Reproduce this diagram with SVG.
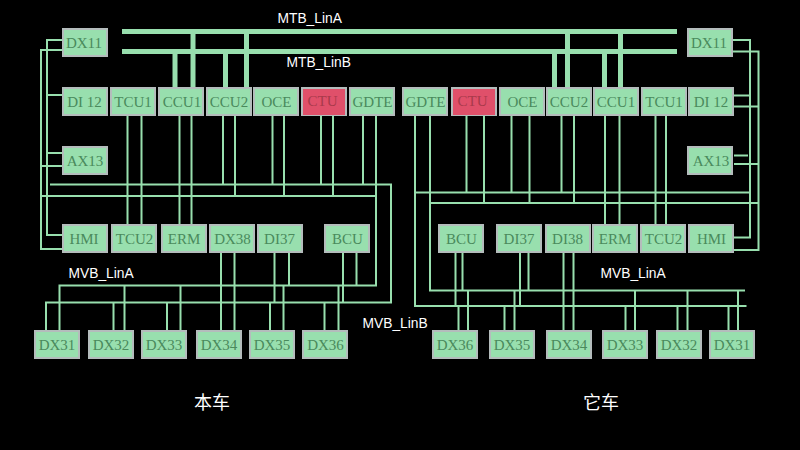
<svg xmlns="http://www.w3.org/2000/svg" width="800" height="450" viewBox="0 0 800 450">
<style>
.o{fill:#b4bcbc}
.i{fill:#98dfae}
.ir{fill:#e0506a}
.n text{font-family:"Liberation Serif",serif;font-size:15px;fill:#4a8a5c;text-anchor:middle}
.n.r text{fill:#a83a4a}
.c path{fill:none;stroke:#98dfae;stroke-width:2}
.c path.t{stroke-width:5}
.l{font-family:"Liberation Sans",sans-serif;font-size:13.8px;fill:#fff}
.z{font-family:"Noto Sans CJK SC",sans-serif;font-size:18px;fill:#fff;text-anchor:middle}
</style>
<defs>
<g id="box"><rect class="o" width="46" height="29"/><rect class="i" x="2" y="2" width="42" height="25"/></g>
<g id="boxr"><rect class="o" width="46" height="29"/><rect class="ir" x="2" y="2" width="42" height="26"/></g>
</defs>
<rect width="800" height="450" fill="#000"/>
<g id="connectors" class="c">
<path class="t" d="M122 31.500H677M122 51.500H677"/>
<path class="t" d="M175 51V87M193 31V87M225.500 51V87M246.500 31V87M554.500 51V87M567.500 31V87M604.500 51V87M620.500 31V87"/>
<path d="M62 40H47V235H62M62 50H41V249H62M47 95H62M47 153H62M41 166H62"/>
<path d="M50 184.500H391V302.500H46V330M41 196H376M376 116V285.500H59.500V330"/>
<path d="M127.500 116V224M141.500 116V224M179.500 116V224M191.500 116V224M223 116V184M235 116V196M272.500 116V184M284 116V196M321 116V184M333 116V196M363 116V184"/>
<path d="M221 253V330M234.500 253V330M274.500 253V303M289 253V285M343 253V302M356.500 253V285"/>
<path d="M113.500 302V330M124.500 285V330M167 302V330M180.500 285V330M270 302V330M283.500 285V330M324.500 302V330M338.500 285V330"/>
<path d="M733 40H750V237.500H734M733 51.500H758.500V250H734M734 95.500H750M734 106.500H758M734 155.500H748M734 164H758"/>
<path d="M415 116V306H746.500M430 116V290.500H745M415 192.500H750M430 203H758"/>
<path d="M466.500 116V192M484 116V203M511.500 116V192M529.500 116V203M561.500 116V192M574 116V203M605 116V224M619.500 116V224M655.500 116V224M666 116V224"/>
<path d="M455.500 253V306M462.500 253V290M520 253V306M528.500 253V290M563.500 253V330M573.500 253V330"/>
<path d="M458.500 306V330M468 290V330M504.500 306V330M514.500 290V330M625.500 306V330M635 290V330M677.500 306V330M687.500 290V330M728.500 306V330M738 290V330"/>
</g>
<g id="n-dx11-l" class="n"><use href="#box" x="62" y="28"/><text x="84" y="48">DX11</text></g>
<g id="n-di12-l" class="n"><use href="#box" x="62" y="87"/><text x="84.500" y="107">DI 12</text></g>
<g id="n-tcu1-l" class="n"><use href="#box" x="110" y="87"/><text x="133" y="107">TCU1</text></g>
<g id="n-ccu1-l" class="n"><use href="#box" x="158" y="87"/><text x="182" y="107">CCU1</text></g>
<g id="n-ccu2-l" class="n"><use href="#box" x="206" y="87"/><text x="229" y="107">CCU2</text></g>
<g id="n-oce-l" class="n"><use href="#box" x="253" y="87"/><text x="276.500" y="107">OCE</text></g>
<g id="n-ctu-l" class="n r"><use href="#boxr" x="301" y="87"/><text x="322.500" y="106">CTU</text></g>
<g id="n-gdte-l" class="n"><use href="#box" x="349" y="87"/><text x="372.500" y="107">GDTE</text></g>
<g id="n-ax13-l" class="n"><use href="#box" x="62" y="146"/><text x="85" y="166">AX13</text></g>
<g id="n-hmi-l" class="n"><use href="#box" x="62" y="224"/><text x="84" y="244">HMI</text></g>
<g id="n-tcu2-l" class="n"><use href="#box" x="111" y="224"/><text x="134.500" y="244">TCU2</text></g>
<g id="n-erm-l" class="n"><use href="#box" x="161" y="224"/><text x="184" y="244">ERM</text></g>
<g id="n-dx38-l" class="n"><use href="#box" x="209" y="224"/><text x="232.500" y="244">DX38</text></g>
<g id="n-di37-l" class="n"><use href="#box" x="257" y="224"/><text x="279.500" y="244">DI37</text></g>
<g id="n-bcu-l" class="n"><use href="#box" x="324" y="224"/><text x="347.500" y="244">BCU</text></g>
<g id="n-dx31-l" class="n"><use href="#box" x="34" y="330"/><text x="57" y="350">DX31</text></g>
<g id="n-dx32-l" class="n"><use href="#box" x="88" y="330"/><text x="111" y="350">DX32</text></g>
<g id="n-dx33-l" class="n"><use href="#box" x="141" y="330"/><text x="164" y="350">DX33</text></g>
<g id="n-dx34-l" class="n"><use href="#box" x="196" y="330"/><text x="219" y="350">DX34</text></g>
<g id="n-dx35-l" class="n"><use href="#box" x="249" y="330"/><text x="272" y="350">DX35</text></g>
<g id="n-dx36-l" class="n"><use href="#box" x="302" y="330"/><text x="325.500" y="350">DX36</text></g>
<g id="n-gdte-r" class="n"><use href="#box" x="402" y="87"/><text x="425.500" y="107">GDTE</text></g>
<g id="n-ctu-r" class="n r"><use href="#boxr" x="451" y="87"/><text x="472.500" y="106">CTU</text></g>
<g id="n-oce-r" class="n"><use href="#box" x="499" y="87"/><text x="522.500" y="107">OCE</text></g>
<g id="n-ccu2-r" class="n"><use href="#box" x="546" y="87"/><text x="569" y="107">CCU2</text></g>
<g id="n-ccu1-r" class="n"><use href="#box" x="593" y="87"/><text x="616" y="107">CCU1</text></g>
<g id="n-tcu1-r" class="n"><use href="#box" x="641" y="87"/><text x="664" y="107">TCU1</text></g>
<g id="n-di12-r" class="n"><use href="#box" x="688" y="87"/><text x="711" y="107">DI 12</text></g>
<g id="n-dx11-r" class="n"><use href="#box" x="687" y="28"/><text x="709" y="48">DX11</text></g>
<g id="n-ax13-r" class="n"><use href="#box" x="687" y="146"/><text x="711" y="166">AX13</text></g>
<g id="n-bcu-r" class="n"><use href="#box" x="438" y="224"/><text x="461.500" y="244">BCU</text></g>
<g id="n-di37-r" class="n"><use href="#box" x="496" y="224"/><text x="519" y="244">DI37</text></g>
<g id="n-di38-r" class="n"><use href="#box" x="545" y="224"/><text x="567.500" y="244">DI38</text></g>
<g id="n-erm-r" class="n"><use href="#box" x="592" y="224"/><text x="615" y="244">ERM</text></g>
<g id="n-tcu2-r" class="n"><use href="#box" x="640" y="224"/><text x="663.500" y="244">TCU2</text></g>
<g id="n-hmi-r" class="n"><use href="#box" x="688" y="224"/><text x="711.500" y="244">HMI</text></g>
<g id="n-dx36-r" class="n"><use href="#box" x="432" y="330"/><text x="455" y="350">DX36</text></g>
<g id="n-dx35-r" class="n"><use href="#box" x="489" y="330"/><text x="512" y="350">DX35</text></g>
<g id="n-dx34-r" class="n"><use href="#box" x="546" y="330"/><text x="569" y="350">DX34</text></g>
<g id="n-dx33-r" class="n"><use href="#box" x="602" y="330"/><text x="625" y="350">DX33</text></g>
<g id="n-dx32-r" class="n"><use href="#box" x="656" y="330"/><text x="679" y="350">DX32</text></g>
<g id="n-dx31-r" class="n"><use href="#box" x="709" y="330"/><text x="732" y="350">DX31</text></g>
<text class="l" x="277.500" y="23">MTB_LinA</text>
<text class="l" x="286.500" y="67">MTB_LinB</text>
<text class="l" x="68.500" y="278">MVB_LinA</text>
<text class="l" x="600.500" y="278">MVB_LinA</text>
<text class="l" x="362.500" y="328">MVB_LinB</text>
<text class="z" x="212" y="409">本车</text>
<text class="z" x="601" y="409">它车</text>
</svg>
